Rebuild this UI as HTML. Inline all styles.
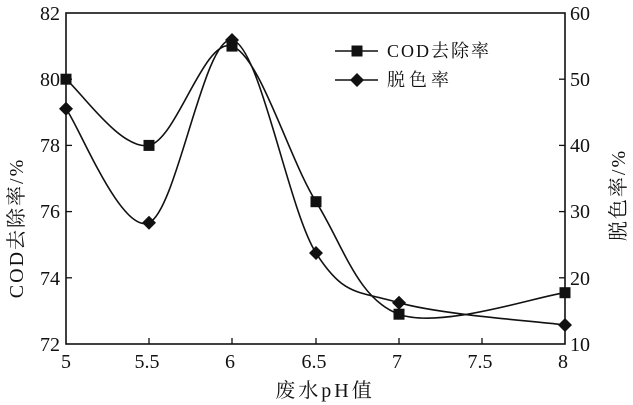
<!DOCTYPE html>
<html><head><meta charset="utf-8"><style>
html,body{margin:0;padding:0;background:#fff;}
svg{display:block;}
text{font-family:"Liberation Serif","Noto Serif CJK SC",serif;fill:#111;}
</style></head><body>
<svg width="633" height="405" viewBox="0 0 633 405" xmlns="http://www.w3.org/2000/svg">
<rect x="66" y="13" width="499" height="331" fill="none" stroke="#111" stroke-width="1.6"/>
<g stroke="#111" stroke-width="1.3">
<line x1="149" y1="344" x2="149" y2="338"/><line x1="232" y1="344" x2="232" y2="338"/><line x1="316" y1="344" x2="316" y2="338"/><line x1="399" y1="344" x2="399" y2="338"/><line x1="482" y1="344" x2="482" y2="338"/>
<line x1="66" y1="79.2" x2="72" y2="79.2"/><line x1="66" y1="145.4" x2="72" y2="145.4"/><line x1="66" y1="211.6" x2="72" y2="211.6"/><line x1="66" y1="277.8" x2="72" y2="277.8"/>
<line x1="565" y1="79.2" x2="559" y2="79.2"/><line x1="565" y1="145.4" x2="559" y2="145.4"/><line x1="565" y1="211.6" x2="559" y2="211.6"/><line x1="565" y1="277.8" x2="559" y2="277.8"/>
</g>
<g font-size="20" text-anchor="end">
<text x="60" y="20">82</text><text x="60" y="86">80</text><text x="60" y="152">78</text><text x="60" y="218">76</text><text x="60" y="285">74</text><text x="60" y="351">72</text>
</g>
<g font-size="20" text-anchor="start">
<text x="570" y="20">60</text><text x="570" y="86">50</text><text x="570" y="152">40</text><text x="570" y="218">30</text><text x="570" y="285">20</text><text x="570" y="351">10</text>
</g>
<g font-size="20" text-anchor="middle">
<text x="66" y="368">5</text><text x="147" y="368">5.5</text><text x="230" y="368">6</text><text x="314" y="368">6.5</text><text x="397" y="368">7</text><text x="480" y="368">7.5</text><text x="563" y="368">8</text>
</g>
<text x="325" y="397" font-size="20" text-anchor="middle" letter-spacing="3">废水pH值</text>
<text transform="translate(23,228) rotate(-90)" font-size="20" text-anchor="middle" letter-spacing="2">COD去除率/%</text>
<text transform="translate(625,195) rotate(-90)" font-size="20" text-anchor="middle" letter-spacing="2">脱色率/%</text>
<g fill="none" stroke="#111" stroke-width="1.6">
<path d="M66,79.2 C79.8,90.2 121.3,150.9 149,145.4 C176.7,139.9 204.2,36.7 232,46.1 C259.8,55.5 288.2,157 316,201.7 C343.8,246.4 357.5,299 399,314.2 C440.5,329.4 537.3,296.3 565,292.7"/>
<path d="M66,108.7 C79.8,127.7 121.3,234.1 149,222.7 C176.7,211.3 204.2,35 232,40 C259.8,45 288.2,209.2 316,253 C343.8,296.8 357.5,290.7 399,302.7 C440.5,314.7 537.3,321.3 565,325"/>
<line x1="335" y1="51" x2="378" y2="51"/><line x1="335" y1="80" x2="378" y2="80"/>
</g>
<g fill="#111">
<rect x="60.5" y="73.7" width="11" height="11"/><rect x="143.5" y="139.9" width="11" height="11"/><rect x="226.5" y="40.6" width="11" height="11"/><rect x="310.5" y="196.2" width="11" height="11"/><rect x="393.5" y="308.7" width="11" height="11"/><rect x="559.5" y="287.2" width="11" height="11"/>
<rect x="351.5" y="45.5" width="11" height="11"/>
<path d="M66,101.7 l7,7 l-7,7 l-7,-7z M149,215.7 l7,7 l-7,7 l-7,-7z M232,33 l7,7 l-7,7 l-7,-7z M316,246 l7,7 l-7,7 l-7,-7z M399,295.7 l7,7 l-7,7 l-7,-7z M565,318 l7,7 l-7,7 l-7,-7z M357,73 l7,7 l-7,7 l-7,-7z"/>
</g>
<text x="387" y="57" font-size="18" letter-spacing="2">COD去除率</text>
<text x="387" y="86" font-size="18" letter-spacing="4">脱色率</text>
</svg>
</body></html>
